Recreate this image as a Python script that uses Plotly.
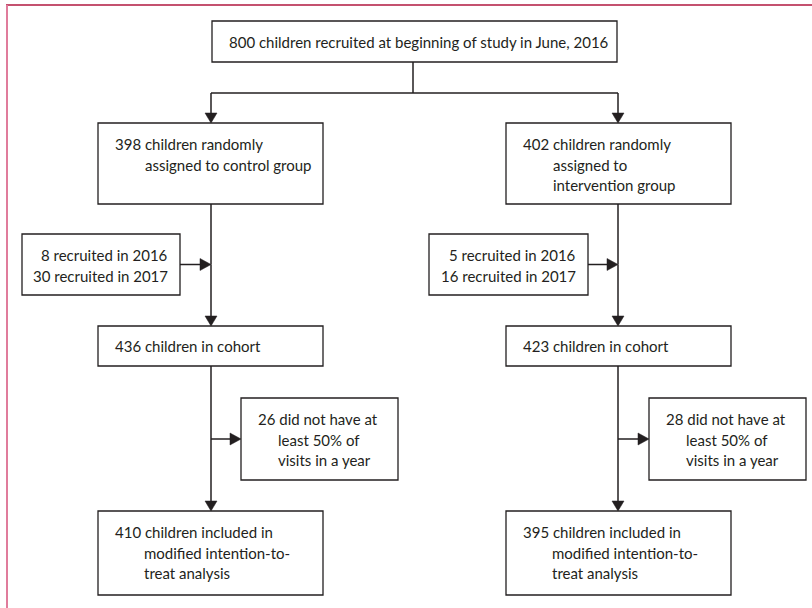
import plotly.graph_objects as go

# trial numbers
total_recruited = 800
groups = ["control group", "intervention group"]
randomised = [398, 402]
late_2016 = [8, 5]
late_2017 = [30, 16]
cohort = [436, 423]
excluded = [26, 28]
mitt = [410, 395]

INK = "#231f20"
FONT = "Lato"
FS = 15
LH = 20.5

# layout of the chart (pixels, y downwards)
cols = [211, 618]
main_x = [(98, 323), (506, 731)]
small_x = [(22, 180), (429, 588)]
side_x = [(241, 398), (649, 806)]
top_box = (212, 617, 21, 62)
rand_y = (123, 204)
small_y = (234, 295)
cohort_y = (326, 366)
side_y = (398, 480)
mitt_y = (511, 595)
split_y = 93

shapes = []
annotations = []


def box(x0, x1, y0, y1):
    shapes.append(dict(type="rect", x0=x0, x1=x1, y0=y0, y1=y1,
                       line=dict(color=INK, width=1.3), fillcolor="white", layer="above"))


def line(x0, y0, x1, y1):
    shapes.append(dict(type="line", x0=x0, x1=x1, y0=y0, y1=y1,
                       line=dict(color=INK, width=1.5)))


def arrow_down(x, y0, y1):
    line(x, y0, x, y1 - 9)
    shapes.append(dict(type="path", path=f"M{x-6},{y1-10} L{x+6},{y1-10} L{x},{y1} Z",
                       fillcolor=INK, line=dict(color=INK, width=0.5)))


def arrow_right(x0, x1, y):
    line(x0, y, x1 - 10, y)
    shapes.append(dict(type="path", path=f"M{x1-11},{y-6} L{x1-11},{y+6} L{x1},{y} Z",
                       fillcolor=INK, line=dict(color=INK, width=0.5)))


def text(x, y, s, anchor="left"):
    annotations.append(dict(x=x, y=y, text=s, showarrow=False, xanchor=anchor, yanchor="middle",
                            font=dict(family=FONT, size=FS, color=INK)))


def hang(x, y_top, lines, indent):
    for i, s in enumerate(lines):
        text(x + (0 if i == 0 else indent), y_top + 21 + i * LH, s)


# top box
box(*top_box)
text(top_box[0] + 15, top_box[2] + 21,
     f"{total_recruited} children recruited at beginning of study in June, 2016")

# split
mid = 413
line(mid, top_box[3], mid, split_y)
line(cols[0], split_y, cols[1], split_y)

for i in range(2):
    cx = cols[i]
    bx0, bx1 = main_x[i]
    arrow_down(cx, split_y, rand_y[0])

    box(bx0, bx1, *rand_y)
    if i == 0:
        rl = [f"{randomised[i]} children randomly", f"assigned to {groups[i]}"]
    else:
        rl = [f"{randomised[i]} children randomly", "assigned to", groups[i]]
    hang(bx0 + 15, rand_y[0], rl, 30)

    # late recruits
    sx0, sx1 = small_x[i]
    box(sx0, sx1, *small_y)
    text(sx1 - 10, small_y[0] + 21, f"{late_2016[i]} recruited in 2016", "right")
    text(sx1 - 10, small_y[0] + 21 + LH, f"{late_2017[i]} recruited in 2017", "right")
    ay = (small_y[0] + small_y[1]) / 2
    arrow_right(sx1, cx, ay)

    line(cx, rand_y[1], cx, ay)
    arrow_down(cx, ay, cohort_y[0])

    box(bx0, bx1, *cohort_y)
    text(bx0 + 15, cohort_y[0] + 20, f"{cohort[i]} children in cohort")

    # exclusions
    ex0, ex1 = side_x[i]
    box(ex0, ex1, *side_y)
    hang(ex0 + 15, side_y[0], [f"{excluded[i]} did not have at", "least 50% of", "visits in a year"], 20)
    ey = (side_y[0] + side_y[1]) / 2
    arrow_right(cx, ex0, ey)

    arrow_down(cx, cohort_y[1], mitt_y[0])
    box(bx0, bx1, *mitt_y)
    hang(bx0 + 15, mitt_y[0], [f"{mitt[i]} children included in", "modified intention-to-",
                              "treat analysis"], 29)

# journal frame
shapes.append(dict(type="line", x0=6, x1=812, y0=5, y1=5, line=dict(color="#b0173f", width=1.4)))
shapes.append(dict(type="line", x0=7, x1=7, y0=5, y1=608, line=dict(color="#e07c9c", width=2)))

fig = go.Figure()
fig.update_layout(
    width=812, height=608,
    margin=dict(l=0, r=0, t=0, b=0),
    paper_bgcolor="white", plot_bgcolor="white",
    xaxis=dict(range=[0, 812], visible=False, fixedrange=True),
    yaxis=dict(range=[608, 0], visible=False, fixedrange=True),
    shapes=shapes, annotations=annotations, showlegend=False,
)
# page margin off so the figure sits at the window's top-left corner
fig.write_html("out.html", config={"displayModeBar": False},
               post_script="document.body.style.margin='0';")
